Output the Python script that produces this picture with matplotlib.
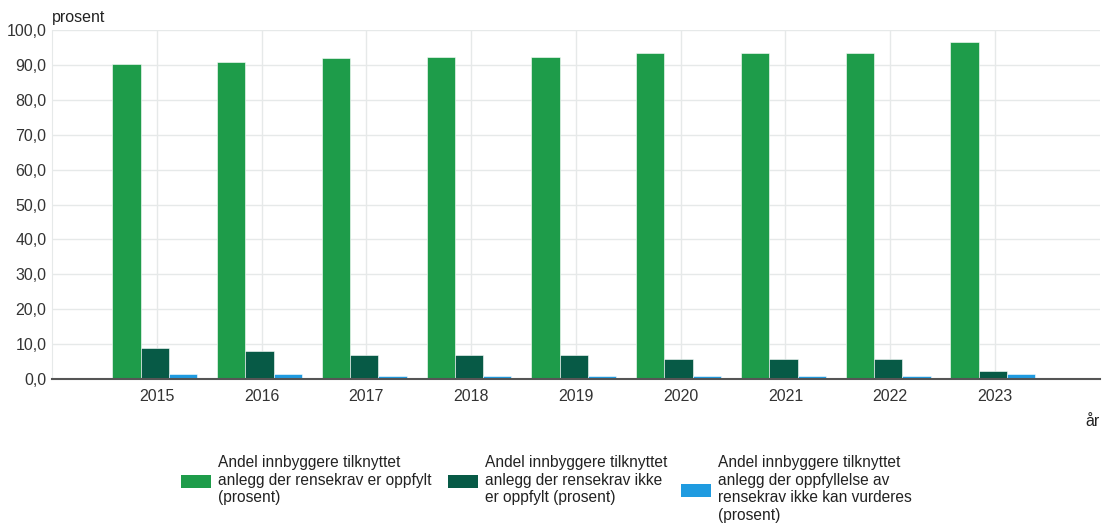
import matplotlib.pyplot as plt
from matplotlib.patches import Rectangle
import numpy as np

plt.rcParams['font.family'] = ['Liberation Sans', 'DejaVu Sans']

years = ['2015', '2016', '2017', '2018', '2019', '2020', '2021', '2022', '2023']
oppfylt = [90.3, 90.9, 92.1, 92.3, 92.3, 93.4, 93.4, 93.4, 96.6]
ikke_oppfylt = [8.8, 8.1, 7.0, 7.0, 7.0, 5.7, 5.7, 5.7, 2.3]
kan_ikke_vurderes = [1.3, 1.3, 0.9, 0.9, 0.9, 0.9, 0.9, 0.9, 1.4]

labels = ['Andel innbyggere tilknyttet\nanlegg der rensekrav er oppfylt\n(prosent)',
          'Andel innbyggere tilknyttet\nanlegg der rensekrav ikke\ner oppfylt (prosent)',
          'Andel innbyggere tilknyttet\nanlegg der oppfyllelse av\nrensekrav ikke kan vurderes\n(prosent)']
colors = ['#1e9c4a', '#075a46', '#1f9be0']

W, H = 1102, 523
fig = plt.figure(figsize=(W / 100, H / 100), dpi=100)
ax = fig.add_axes([0.0472, 0.2753, 0.9508, 0.6673])

x = np.arange(len(years))
w = 0.27
for i, (vals, c) in enumerate(zip([oppfylt, ikke_oppfylt, kan_ikke_vurderes], colors)):
    ax.bar(x - 0.02 + (i - 1) * w, vals, width=w, color=c, zorder=3,
           edgecolor='#ffffff', linewidth=0.4)

ax.set_xlim(-1, 9)
ax.set_ylim(0, 100)
ax.set_yticks(np.arange(0, 101, 10))
ax.set_yticklabels([f'{v:.1f}'.replace('.', ',') for v in np.arange(0, 101, 10)])
ax.set_xticks(x)
ax.set_xticklabels(years)
ax.tick_params(length=0, labelsize=11.5, colors='#333333')
ax.tick_params(axis='x', pad=7)
ax.tick_params(axis='y', pad=4)
ax.grid(True, color='#e6e9e9', linewidth=1, zorder=0)

for s in ['top', 'right']:
    ax.spines[s].set_visible(False)
ax.spines['left'].set_color('#e6e9e9')
ax.spines['bottom'].set_color('#555555')
ax.spines['bottom'].set_linewidth(1.5)
ax.spines['bottom'].set_zorder(4)

fig.text(0.0472, 0.952, 'prosent', fontsize=11.5, color='#222222', va='bottom', ha='left')
fig.text(0.998, 1 - 422 / H, 'år', fontsize=11.5, color='#222222', va='center', ha='right')

# legend drawn by hand so the text blocks are top aligned like the original
leg_x = [181, 448, 681]
top = 455
line_h = 17.5
for lx, c, lab in zip(leg_x, colors, labels):
    n = lab.count('\n') + 1
    cy = top + n * line_h / 2
    fig.add_artist(Rectangle((lx / W, 1 - (cy + 6.5) / H), 30 / W, 13 / H,
                             transform=fig.transFigure, facecolor=c, edgecolor='none'))
    fig.text((lx + 37) / W, 1 - top / H, lab, fontsize=11.2, color='#222222',
             va='top', ha='left', linespacing=1.22)

fig.savefig('out.png', dpi=100)
